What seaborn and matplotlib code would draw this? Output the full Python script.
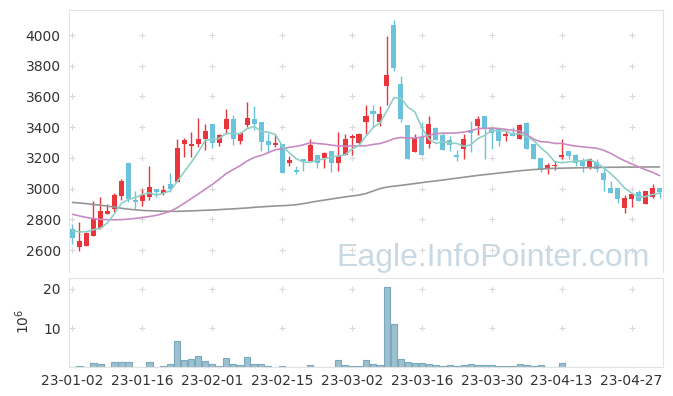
import numpy as np
import pandas as pd
import matplotlib
matplotlib.use("Agg")
import matplotlib.pyplot as plt
import seaborn as sns

# ---------------- data ----------------
tick_labels = ["23-01-02", "23-01-16", "23-02-01", "23-02-15", "23-03-02",
               "23-03-16", "23-03-30", "23-04-13", "23-04-27"]

open_ = [2737, 2622, 2629, 2694, 2746, 2836, 2867, 2953, 3166, 2925,
         2921, 2947, 2997, 2969, 3029, 3044, 3293, 3278, 3289, 3321,
         3419, 3297, 3391, 3456, 3310, 3414, 3451, 3436, 3308, 3286,
         3293, 3164, 3120, 3190, 3180, 3217, 3202, 3243, 3164, 3217,
         3332, 3300, 3433, 3503, 3433, 3667, 4068, 3678, 3412, 3239,
         3336, 3289, 3397, 3347, 3315, 3217, 3261, 3384, 3408, 3470,
         3391, 3397, 3343, 3362, 3326, 3430, 3289, 3202, 3127, 3148,
         3206, 3243, 3222, 3185, 3138, 3174, 3103, 3003, 3003, 2875,
         2932, 2979, 2897, 2943, 3001]
high = [2770, 2781, 2715, 2919, 2943, 2897, 2971, 3060, 3170, 2982,
        2997, 3146, 2997, 3021, 3099, 3326, 3330, 3369, 3462, 3423,
        3419, 3358, 3520, 3477, 3369, 3563, 3535, 3436, 3365, 3358,
        3293, 3211, 3146, 3190, 3321, 3217, 3239, 3243, 3369, 3354,
        3354, 3365, 3542, 3542, 3535, 3996, 4100, 3732, 3412, 3358,
        3433, 3470, 3401, 3360, 3343, 3254, 3358, 3440, 3470, 3470,
        3391, 3397, 3384, 3401, 3423, 3434, 3289, 3202, 3168, 3180,
        3326, 3243, 3228, 3200, 3200, 3190, 3141, 3051, 3003, 2958,
        2964, 2990, 2986, 3029, 3001]
low = [2640, 2596, 2625, 2694, 2740, 2836, 2846, 2925, 2910, 2867,
       2888, 2925, 2943, 2958, 2979, 3044, 3206, 3206, 3271, 3250,
       3267, 3278, 3358, 3282, 3293, 3401, 3380, 3243, 3239, 3271,
       3099, 3146, 3094, 3116, 3180, 3131, 3131, 3109, 3114, 3217,
       3217, 3293, 3358, 3401, 3408, 3542, 3769, 3433, 3191, 3239,
       3217, 3267, 3315, 3250, 3243, 3183, 3196, 3239, 3347, 3191,
       3261, 3278, 3310, 3345, 3326, 3258, 3191, 3109, 3094, 3120,
       3196, 3191, 3146, 3109, 3125, 3109, 2984, 2973, 2904, 2843,
       2878, 2921, 2897, 2936, 2936]
close = [2681, 2659, 2709, 2807, 2854, 2854, 2958, 3049, 2932, 2914,
         2958, 3008, 2979, 2990, 2995, 3267, 3315, 3289, 3326, 3375,
         3297, 3347, 3456, 3321, 3365, 3462, 3419, 3304, 3286, 3297,
         3099, 3185, 3109, 3178, 3287, 3164, 3229, 3170, 3213, 3326,
         3343, 3358, 3470, 3486, 3483, 3737, 3787, 3451, 3191, 3330,
         3217, 3419, 3315, 3250, 3282, 3204, 3326, 3365, 3451, 3391,
         3365, 3310, 3358, 3345, 3412, 3258, 3191, 3127, 3153, 3150,
         3222, 3213, 3167, 3148, 3190, 3125, 3055, 2973, 2932, 2936,
         2964, 2921, 2986, 3003, 2979]

# volume in millions (data available for the first 80 sessions)
volume = [0.0, 0.25, 0.0, 1.2, 0.9, 0.2, 1.35, 1.35, 1.35, 0.15,
          0.15, 1.35, 0.15, 0.4, 0.85, 6.7, 1.85, 2.2, 2.9, 1.6,
          0.85, 0.4, 2.4, 0.85, 0.6, 2.6, 0.85, 0.85, 0.4, 0.15,
          0.4, 0.15, 0.15, 0.15, 0.6, 0.15, 0.15, 0.15, 1.85, 0.6,
          0.35, 0.35, 1.85, 0.85, 0.6, 20.5, 11.0, 2.1, 1.45, 1.1,
          1.1, 0.85, 0.6, 0.35, 0.6, 0.35, 0.6, 0.85, 0.6, 0.6,
          0.6, 0.35, 0.35, 0.35, 0.85, 0.6, 0.35, 0.6, 0.1, 0.1,
          1.1, 0.1, 0.1, 0.1, 0.1, 0.1, 0.1, 0.1, 0.1, 0.1]

# moving-average values before the window is filled
ma5_head = [2726, 2718, 2720, 2732]
ma20_head = [2833, 2822, 2812, 2805, 2800, 2798, 2797, 2798, 2801, 2806,
             2812, 2818, 2826, 2838, 2852, 2876, 2905, 2935, 2965]
ma120 = [2910, 2906, 2902, 2897, 2892, 2886, 2880, 2872, 2866, 2862,
         2858, 2856, 2854, 2853, 2852, 2852, 2853, 2855, 2857, 2859,
         2861, 2863, 2866, 2868, 2871, 2874, 2878, 2881, 2884, 2887,
         2889, 2891, 2895, 2902, 2910, 2918, 2925, 2932, 2939, 2946,
         2952, 2958, 2968, 2984, 3000, 3010, 3016, 3021, 3027, 3033,
         3039, 3045, 3050, 3056, 3062, 3068, 3074, 3080, 3086, 3091,
         3096, 3101, 3106, 3111, 3116, 3120, 3124, 3127, 3130, 3132,
         3133, 3134, 3135, 3136, 3137, 3138, 3138, 3139, 3139, 3140,
         3140, 3140, 3141, 3141, 3141]

# ---------------- style ----------------
RED = "#e8363c"
BLUE = "#6ac3da"
TEAL = "#8fcfc9"
PINK = "#c88bc3"
GRAY = "#959595"
VOLC = "#9dc0d0"
VOLE = "#7aa8bd"
SPINE = "#e3e3e3"
TXT = "#333333"

sns.set_style("white")
plt.rcParams['font.family'] = ['DejaVu Sans']

fig = plt.figure(figsize=(6.73, 3.96), dpi=100)
ax = fig.add_axes([69 / 673, 1 - 272 / 396, 594 / 673, 262 / 396])
axv = fig.add_axes([69 / 673, 1 - 367.3 / 396, 594 / 673, 89 / 396])

o = np.array(open_, float)
h = np.array(high, float)
l = np.array(low, float)
c = np.array(close, float)
n = len(c)
idx = np.arange(n)
cols = np.where(c >= o, RED, BLUE)

# moving averages
s = pd.Series(c)
ma5 = s.rolling(5).mean().to_numpy()
ma5[:len(ma5_head)] = ma5_head
ma20 = s.rolling(20).mean().to_numpy()
ma20[:len(ma20_head)] = ma20_head

xt = list(range(0, n, 10))
yt = list(range(2600, 4001, 200))

# grid crosses
gx, gy = np.meshgrid(xt, yt)
ax.scatter(gx.ravel(), gy.ravel(), marker='+', s=22, color="#d9d9d9",
           linewidths=0.8, zorder=0)

# watermark
ax.text(0.978, 0.022, "Eagle.InfoPointer.com", transform=ax.transAxes,
        ha='right', va='baseline', fontsize=23, color="#c9d9e4",
        family='Liberation Sans', zorder=0.5)

# candles
ax.vlines(idx, l, h, colors=cols, linewidth=1.0, zorder=2)
body_lo = np.minimum(o, c)
body_h = np.maximum(np.abs(c - o), 8)
ax.bar(idx, body_h, bottom=body_lo, width=0.72, color=cols, linewidth=0, zorder=2)

# moving average lines
sns.lineplot(x=idx, y=ma120, ax=ax, color=GRAY, linewidth=1.2, zorder=3)
sns.lineplot(x=idx, y=ma20, ax=ax, color=PINK, linewidth=1.2, zorder=3)
sns.lineplot(x=idx, y=ma5, ax=ax, color=TEAL, linewidth=1.2, zorder=3)

ax.set_xlim(-0.5, n - 0.5)
ax.set_ylim(2457, 4163)
ax.set_xticks(xt)
ax.set_xticklabels([])
ax.set_yticks(yt)
ax.set_yticklabels([str(v) for v in yt])
ax.tick_params(axis='both', length=0)
ax.tick_params(axis='y', pad=6, labelsize=10, labelcolor=TXT)
ax.set_xlabel("")
ax.set_ylabel("")
for sp in ax.spines.values():
    sp.set_color(SPINE)
    sp.set_linewidth(0.8)
ax.spines['bottom'].set_visible(False)

# volume
vol_idx = np.arange(len(volume))
vx, vy = np.meshgrid(xt, [10, 20])
axv.scatter(vx.ravel(), vy.ravel(), marker='+', s=22, color="#d9d9d9",
            linewidths=0.8, zorder=0)
sns.barplot(x=vol_idx, y=volume, ax=axv, native_scale=True, width=0.9,
            color=VOLC, edgecolor=VOLE, linewidth=0.8, saturation=1,
            errorbar=None, zorder=2)
axv.set_xlim(-0.5, n - 0.5)
axv.set_ylim(0, 22.65)
axv.set_xticks(xt)
axv.set_xticklabels(tick_labels)
axv.set_yticks([10, 20])
axv.set_yticklabels(["10", "20"])
axv.tick_params(axis='both', length=0, labelsize=10, labelcolor=TXT)
axv.tick_params(axis='x', pad=5)
axv.tick_params(axis='y', pad=6)
axv.set_xlabel("")
axv.set_ylabel("$10^6$", fontsize=10, color=TXT)
axv.yaxis.set_label_coords(-0.062, 0.52)
for sp in axv.spines.values():
    sp.set_color(SPINE)
    sp.set_linewidth(0.8)

fig.savefig("out.png", dpi=100)
